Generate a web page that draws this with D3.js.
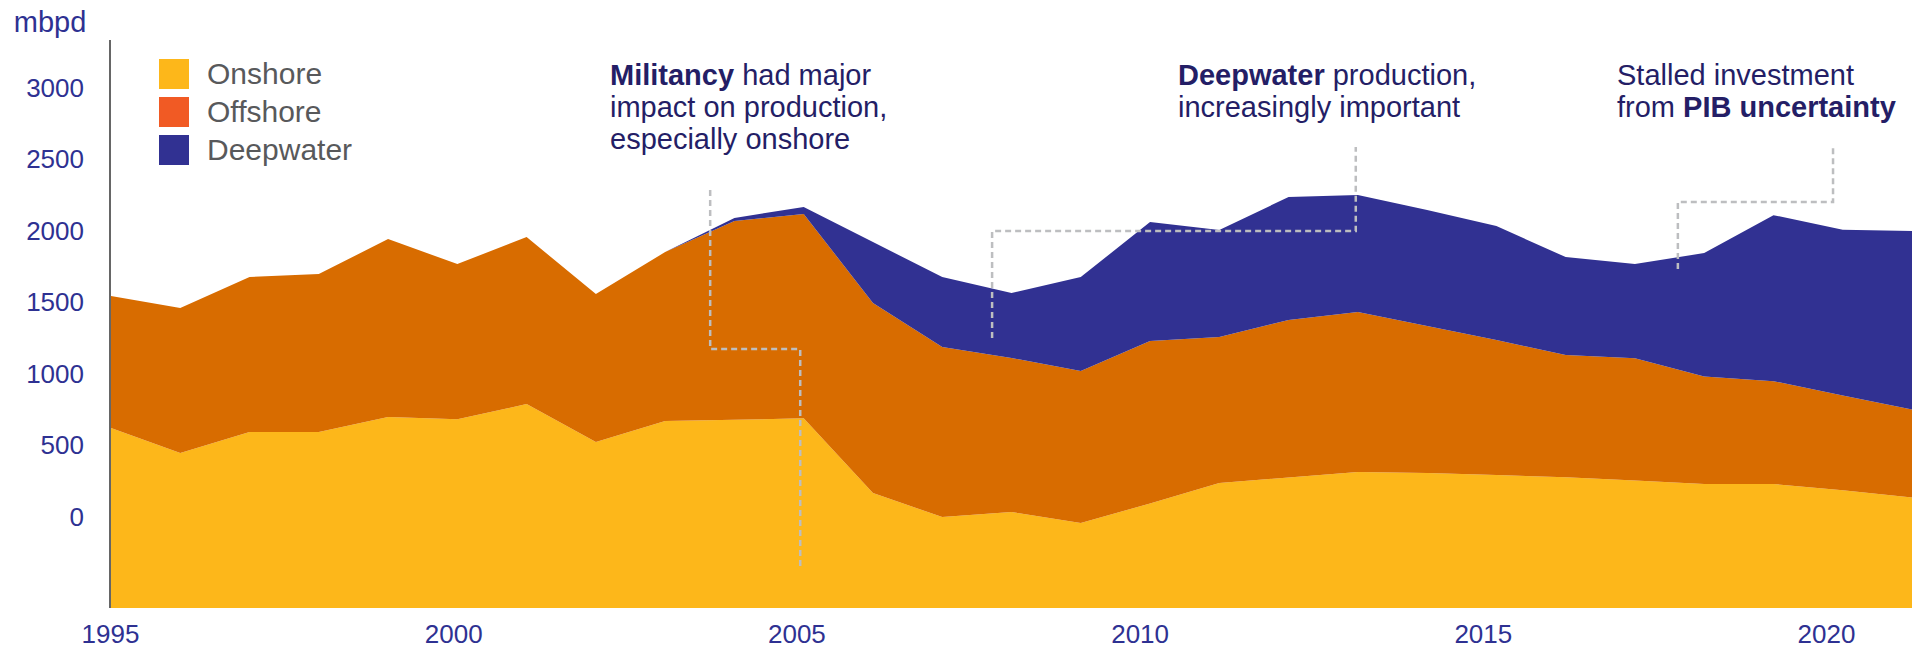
<!DOCTYPE html>
<html>
<head>
<meta charset="utf-8">
<script src="https://cdn.jsdelivr.net/npm/d3@7"></script>
<style>
  html, body { margin: 0; padding: 0; background: #fff; }
  svg { display: block; font-family: "Liberation Sans", Arial, sans-serif; }
</style>
</head>
<body>
<svg id="chart"></svg>
<script>
// values (mbpd)
const years = [1995, 1996, 1997, 1998, 1999, 2000, 2001, 2002, 2003, 2004, 2005, 2006, 2007,
  2008, 2009, 2010, 2011, 2012, 2013, 2014, 2015, 2016, 2017, 2018, 2019, 2020, 2021];
const onshore = [622, 447, 594, 594, 700, 684, 790, 524, 671, 680, 690, 168, 0,
  35, -42, 95, 238, 277, 315, 308, 294, 278, 255, 231, 231, 188, 137];
const offshore = [923, 1015, 1084, 1105, 1244, 1085, 1168, 1035, 1182, 1390, 1429, 1329, 1189,
  1077, 1063, 1136, 1021, 1101, 1119, 1028, 944, 855, 856, 752, 719, 662, 615];
const deepwater = [0, 0, 0, 0, 0, 0, 0, 0, 0, 21, 49, 426, 489,
  454, 657, 832, 748, 860, 818, 811, 797, 685, 658, 863, 1161, 1159, 1248];

const seriesNames = ["Onshore", "Offshore", "Deepwater"];
const yTicks = [0, 500, 1000, 1500, 2000, 2500, 3000];
const xTicks = [1995, 2000, 2005, 2010, 2015, 2020];

// annotation text, leader lines in [year, mbpd]
const notes = [
  {lines: [[["Militancy", true], [" had major", false]], [["impact on production,", false]], [["especially onshore", false]]],
   x: 610, leader: [[2003.65, 2287], [2003.65, 1175], [2004.95, 1175], [2004.95, -350]]},
  {lines: [[["Deepwater", true], [" production,", false]], [["increasingly important", false]]],
   x: 1178, leader: [[2007.72, 1252], [2007.72, 2000], [2012.97, 2000], [2012.97, 2587]]},
  {lines: [[["Stalled investment", false]], [["from ", false], ["PIB uncertainty", true]]],
   x: 1617, leader: [[2017.62, 1734], [2017.62, 2203], [2019.86, 2203], [2019.86, 2587]]}
];

const width = 1916;
const height = 654;
const colors = ["#FDB71A", "#D86C00", "#313192"];
const legendColors = ["#FDB71A", "#F15A24", "#313192"];

const svg = d3.select("#chart")
    .attr("width", width)
    .attr("height", height);

const x = d3.scaleLinear()
    .domain([1995, 2021])
    .range([111, 1912]);

// year labels in the original sit a little left of the data points
const xLabel = d3.scaleLinear()
    .domain([1995, 2020])
    .range([110, 1826]);

const y = d3.scaleLinear()
    .domain([-636, 3000])
    .range([608, 88]);

const table = years.map((yr, i) => ({
  year: yr, Onshore: onshore[i], Offshore: offshore[i], Deepwater: deepwater[i]
}));

const stacked = d3.stack().keys(seriesNames)(table);
const floor = y.domain()[0];

const area = (idx) => d3.area()
    .x(d => x(d.data.year))
    .y0(d => idx === 0 ? y(floor) : y(d[0]))
    .y1(d => y(d[1]));

svg.append("g")
  .selectAll("path")
  .data(stacked)
  .enter()
  .append("path")
    .attr("fill", (d, i) => colors[i])
    .attr("d", (d, i) => area(i)(d));

// dashed leaders
svg.append("g")
  .selectAll("path")
  .data(notes)
  .enter()
  .append("path")
    .attr("fill", "none")
    .attr("stroke", "#BDBEC0")
    .attr("stroke-width", 2.5)
    .attr("stroke-dasharray", "6,4")
    .attr("d", d => d3.line().x(p => x(p[0])).y(p => y(p[1]))(d.leader));

// y axis
const yAxis = d3.axisLeft(y)
    .tickValues(yTicks)
    .tickFormat(d3.format("d"))
    .tickSize(0)
    .tickPadding(0);

const gy = svg.append("g")
    .attr("transform", "translate(84,0)")
    .call(yAxis);
gy.select(".domain").remove();
gy.selectAll("text")
    .attr("fill", "#2E3192")
    .style("font-size", "26px");

svg.append("line")
    .attr("x1", 110).attr("x2", 110)
    .attr("y1", 40).attr("y2", y(floor))
    .attr("stroke", "#666")
    .attr("stroke-width", 2);

svg.append("text")
    .attr("x", 50)
    .attr("y", 32)
    .attr("text-anchor", "middle")
    .attr("fill", "#2E3192")
    .style("font-size", "29px")
    .text("mbpd");

// x axis
const xAxis = d3.axisBottom(xLabel)
    .tickValues(xTicks)
    .tickFormat(d3.format("d"))
    .tickSize(0)
    .tickPadding(0);

const gx = svg.append("g")
    .attr("transform", `translate(0, ${y(floor) + 17})`)
    .call(xAxis);
gx.select(".domain").remove();
gx.selectAll("text")
    .attr("fill", "#2E3192")
    .style("font-size", "26px");

// legend
const legend = svg.append("g")
  .selectAll("g")
  .data(seriesNames)
  .enter()
  .append("g")
    .attr("transform", (d, i) => `translate(159, ${59 + i * 38})`);

legend.append("rect")
    .attr("width", 30)
    .attr("height", 30)
    .attr("fill", (d, i) => legendColors[i]);

legend.append("text")
    .attr("x", 48)
    .attr("y", 25)
    .attr("fill", "#58595B")
    .style("font-size", "30px")
    .text(d => d);

// annotation text
notes.forEach(n => {
  const t = svg.append("text")
      .attr("fill", "#241E66")
      .style("font-size", "29px");
  n.lines.forEach((line, li) => {
    line.forEach((part, pi) => {
      const s = t.append("tspan")
          .style("font-weight", part[1] ? "bold" : "normal")
          .text(part[0]);
      if (pi === 0) s.attr("x", n.x).attr("y", 85 + li * 32);
    });
  });
});
</script>
</body>
</html>
